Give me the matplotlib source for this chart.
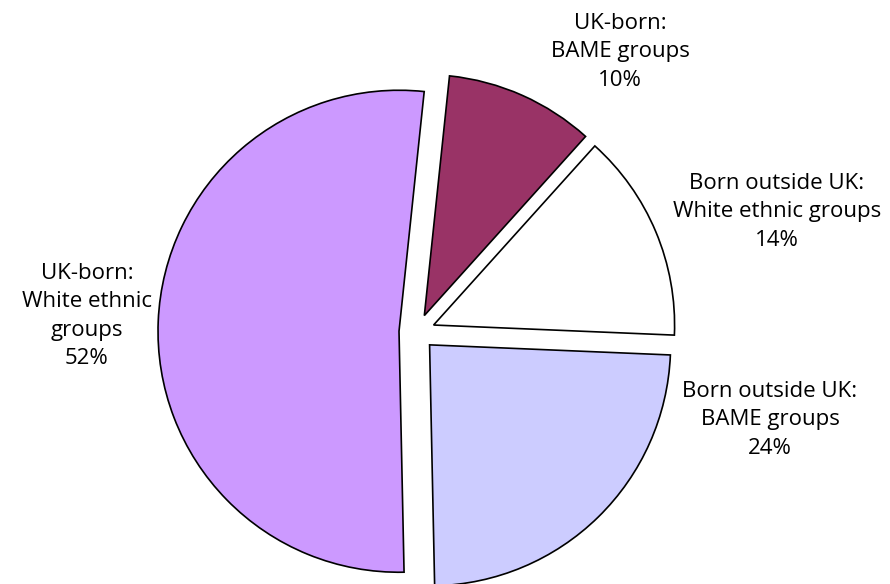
import matplotlib.pyplot as plt

# slices, clockwise from the top
labels = ["UK-born:\nBAME groups\n10%",
          "Born outside UK:\nWhite ethnic groups\n14%",
          "Born outside UK:\nBAME groups\n24%",
          "UK-born:\nWhite ethnic\ngroups\n52%"]
values = [10, 14, 24, 52]
colors = ["#993366", "#FFFFFF", "#CCCCFF", "#CC99FF"]

# label anchor points in pixel space (x right, y up)
label_x = [620, 777, 770, 87]
label_y = [584 - 52, 584 - 212, 584 - 420, 584 - 316]

plt.rcParams['font.family'] = ['Open Sans', 'DejaVu Sans']

fig = plt.figure(figsize=(8.9, 5.84), dpi=100)
ax = fig.add_axes([0, 0, 1, 1])

# explode is in data units (pixels here)
ax.pie(values, colors=colors, startangle=84, counterclock=False,
       explode=[18] * 4, center=(417, 252), radius=241,
       wedgeprops=dict(edgecolor='black', linewidth=1.2))

for txt, x, y in zip(labels, label_x, label_y):
    ax.text(x, y, txt, ha='center', va='center', fontsize=16,
            linespacing=1.45, color='black')

ax.set_xlim(0, 890)
ax.set_ylim(0, 584)
ax.set_aspect('equal')
ax.axis('off')

fig.savefig("out.png", dpi=100)
